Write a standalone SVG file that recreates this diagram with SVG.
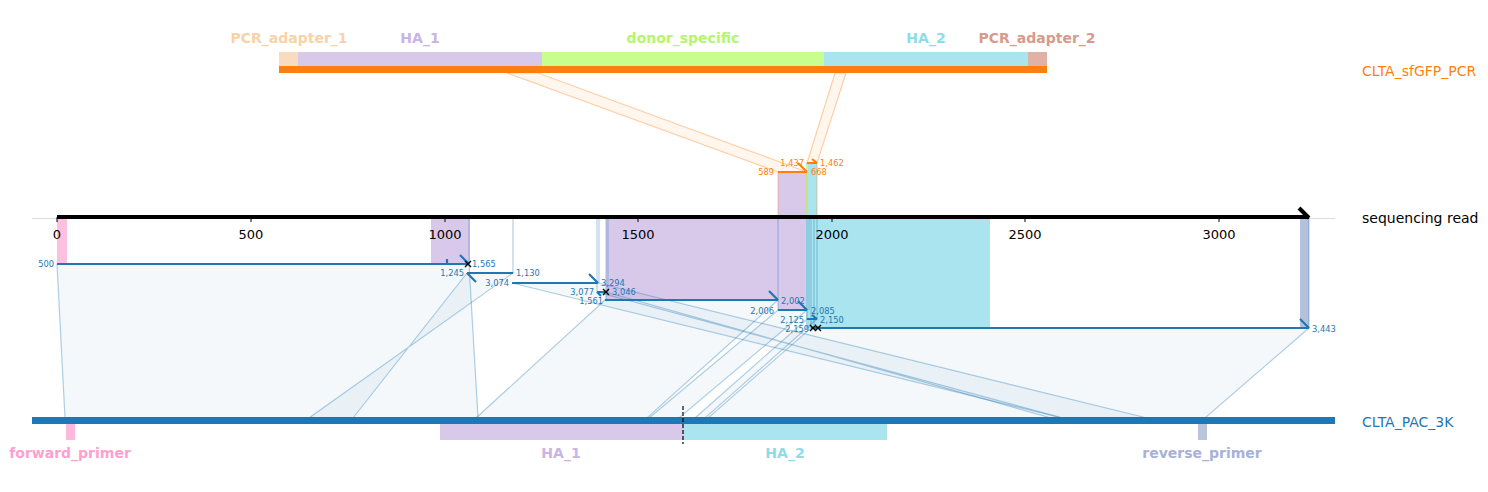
<svg xmlns="http://www.w3.org/2000/svg" width="1488" height="492" viewBox="0 0 1488 492">
<style>
text{font-family:"DejaVu Sans","Liberation Sans",sans-serif}
.feat{font-weight:bold;font-size:14px;text-anchor:middle}
.tick{font-size:13px;text-anchor:middle;fill:#000}
.ref{font-size:14px}
.sl{font-size:8.3px;fill:#1f77b4}
.so{font-size:8.3px;fill:#ff7f0e}
.end{text-anchor:end}
.poly{fill:#1f77b4;fill-opacity:0.05;stroke:#1f77b4;stroke-opacity:0.35;stroke-width:1.2}
.opoly{fill:#ff7f0e;fill-opacity:0.07;stroke:#ff7f0e;stroke-opacity:0.35;stroke-width:1.2}
.vl{stroke:#1f77b4;stroke-opacity:0.35;stroke-width:1.2}
.vo{stroke:#ff7f0e;stroke-opacity:0.35;stroke-width:1.2}
.al{stroke:#1f77b4;stroke-width:2.2;fill:none}
.ao{stroke:#ff7f0e;stroke-width:2.2;fill:none}
.x{stroke:#000;stroke-width:1.4}
</style>

<!-- baseline -->
<line x1="32" y1="218.5" x2="1335" y2="218.5" stroke="#dddddd" stroke-width="1"/>

<!-- feature shading on read -->
<g id="read-features">
<rect x="57" y="217" width="10" height="47" fill="#ffb9dc" fill-opacity="0.9"/>
<rect x="431" y="217" width="39" height="47" fill="#d8c8ea"/>
<rect x="606" y="217" width="200" height="83" fill="#d8c8ea"/>
<rect x="778" y="217" width="28" height="93" fill="#d8c8ea"/>
<rect x="806" y="217" width="184" height="111" fill="#a9e4ef"/>
<rect x="1300" y="217" width="9" height="111" fill="#b5c0dd"/>
<rect x="778" y="172" width="28" height="45" fill="#d8c8ea"/>
<rect x="806" y="163" width="11" height="54" fill="#a9e4ef"/>
<rect x="806" y="163" width="2" height="54" fill="#c6ff8e" fill-opacity="0.8"/>
</g>

<!-- top reference -->
<g id="CLTA_sfGFP_PCR">
<rect x="279" y="52" width="19" height="14" fill="#f9dcc0"/>
<rect x="298" y="52" width="244" height="14" fill="#d8c8ea"/>
<rect x="542" y="52" width="282" height="14" fill="#c6ff8e"/>
<rect x="824" y="52" width="204" height="14" fill="#a9e4ef"/>
<rect x="1028" y="52" width="19" height="14" fill="#e0b2a6"/>
<rect x="279" y="66" width="768" height="7" fill="#ff7f0e"/>
<text class="feat" x="289" y="43" fill="#f8d2a8">PCR_adapter_1</text>
<text class="feat" x="420" y="43" fill="#c8b4e6">HA_1</text>
<text class="feat" x="683" y="43" fill="#b6f56e">donor_specific</text>
<text class="feat" x="926" y="43" fill="#8fdbe8">HA_2</text>
<text class="feat" x="1037" y="43" fill="#d89a8a">PCR_adapter_2</text>
<text class="ref" x="1362" y="76" fill="#ff7f0e">CLTA_sfGFP_PCR</text>
</g>

<!-- bottom reference -->
<g id="CLTA_PAC_3K">
<rect x="32" y="417" width="1303" height="7" fill="#1f77b4"/>
<rect x="66" y="424" width="9" height="16" fill="#ffb9dc"/>
<rect x="440" y="424" width="243" height="16" fill="#d8c8ea"/>
<rect x="683" y="424" width="204" height="16" fill="#a9e4ef"/>
<rect x="1198" y="424" width="9" height="16" fill="#bac4dd"/>
<line x1="683" y1="406" x2="683" y2="444" stroke="#000" stroke-width="1.2" stroke-dasharray="4,2"/>
<text class="feat" x="70" y="458" fill="#ff9fcf">forward_primer</text>
<text class="feat" x="561" y="458" fill="#c8b4e6">HA_1</text>
<text class="feat" x="785" y="458" fill="#8fdbe8">HA_2</text>
<text class="feat" x="1202" y="458" fill="#a6b2d6">reverse_primer</text>
<text class="ref" x="1362" y="427" fill="#1f77b4">CLTA_PAC_3K</text>
</g>

<!-- connectors -->
<g id="connectors">
<polygon class="opoly" points="507,73 538,73 807,172 778,172"/>
<polygon class="opoly" points="835,73 846,73 817,163 807,163"/>
<line class="vo" x1="778" y1="172" x2="778" y2="217"/>
<line class="vo" x1="807" y1="172" x2="807" y2="217"/>
<line class="vo" x1="817" y1="163" x2="817" y2="217"/>

<polygon class="poly" points="57,264 469,264 478,418 65,418"/>
<polygon class="poly" points="467,273 513,273 309,418 353,418"/>
<polygon class="poly" points="512,283 598,283 1147,418 1062,418"/>
<polygon class="poly" points="597,292 606,292 1051,418 1063,418"/>
<polygon class="poly" points="605,300 778,300 647,418 476,418"/>
<polygon class="poly" points="778,310 807,310 679,418 649,418"/>
<polygon class="poly" points="807,319 817,319 705,418 695,418"/>
<polygon class="poly" points="811,328 1309,328 1205,418 708,418"/>

<line class="vl" x1="469" y1="217" x2="469" y2="264"/>
<line class="vl" x1="513" y1="217" x2="513" y2="273"/>
<line class="vl" x1="597" y1="217" x2="597" y2="292"/>
<line class="vl" x1="599" y1="217" x2="599" y2="283"/>
<line class="vl" x1="606" y1="217" x2="606" y2="300"/>
<line class="vl" x1="608" y1="217" x2="608" y2="292"/>
<line class="vl" x1="778" y1="217" x2="778" y2="310"/>
<line class="vl" x1="807" y1="217" x2="807" y2="319"/>
<line class="vl" x1="809" y1="217" x2="809" y2="310"/>
<line class="vl" x1="811" y1="217" x2="811" y2="328"/>
<line class="vl" x1="814" y1="217" x2="814" y2="328"/>
<line class="vl" x1="817" y1="217" x2="817" y2="319"/>
<line class="vl" x1="1309" y1="217" x2="1309" y2="328"/>

<!-- alignment rows -->
<path class="al" d="M57,264H469M460,255L469,264M447,259V264"/>
<path class="al" d="M467,273H513M467,273L476,282"/>
<path class="al" d="M512,283H598M589,274L598,283"/>
<path class="al" d="M597,292H606M597,292L601,296"/>
<path class="al" d="M605,300H778M769,291L778,300"/>
<path class="al" d="M778,310H807M798,301L807,310"/>
<path class="al" d="M807,319H817M812,315L817,319"/>
<path class="al" d="M811,328H1309M1300,319L1309,328"/>
<path class="ao" d="M778,172H807M798,163L807,172"/>
<path class="ao" d="M807,163H817M812,159L817,163"/>

<path class="x" d="M465,261l6,6M471,261l-6,6M603,289l6,6M609,289l-6,6M810,325l6,6M816,325l-6,6M815,325l6,6M821,325l-6,6"/>

<text class="sl end" x="54" y="267">500</text><text class="sl" x="472" y="267">1,565</text>
<text class="sl end" x="464" y="276">1,245</text><text class="sl" x="516" y="276">1,130</text>
<text class="sl end" x="509" y="286">3,074</text><text class="sl" x="601" y="286">3,294</text>
<text class="sl end" x="594" y="295">3,077</text><text class="sl" x="612" y="295">3,046</text>
<text class="sl end" x="603" y="304">1,561</text><text class="sl" x="781" y="304">2,002</text>
<text class="sl end" x="774" y="314">2,006</text><text class="sl" x="811" y="314">2,085</text>
<text class="sl end" x="804" y="323">2,125</text><text class="sl" x="820" y="323">2,150</text>
<text class="sl end" x="809" y="332">2,159</text><text class="sl" x="1312" y="332">3,443</text>
<text class="so end" x="774" y="175">589</text><text class="so" x="811" y="175">668</text>
<text class="so end" x="804" y="166">1,437</text><text class="so" x="820" y="166">1,462</text>
</g>

<!-- read axis -->
<g id="sequencing-read">
<line x1="57" y1="217" x2="1309" y2="217" stroke="#000" stroke-width="4"/>
<path d="M1299,208L1309,218" stroke="#000" stroke-width="4" fill="none"/>
<path d="M57,217v5M251,217v5M445,217v5M638,217v5M832,217v5M1025,217v5M1219,217v5" stroke="#000" stroke-width="1"/>
<text class="tick" x="57" y="239">0</text>
<text class="tick" x="251" y="239">500</text>
<text class="tick" x="445" y="239">1000</text>
<text class="tick" x="638" y="239">1500</text>
<text class="tick" x="832" y="239">2000</text>
<text class="tick" x="1025" y="239">2500</text>
<text class="tick" x="1219" y="239">3000</text>
<text class="ref" x="1362" y="223" fill="#000">sequencing read</text>
</g>
</svg>
